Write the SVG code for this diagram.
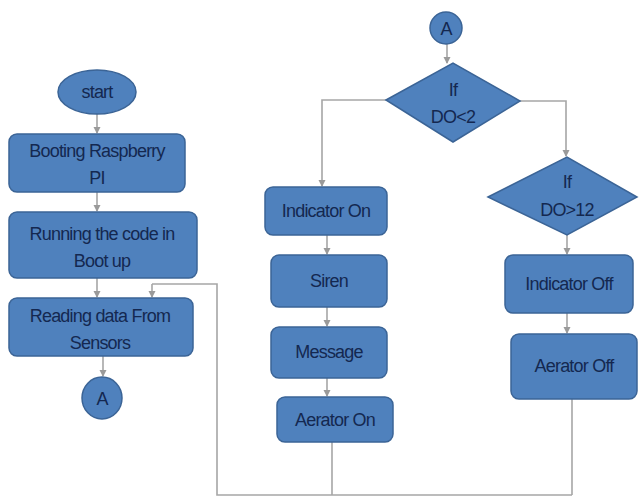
<svg xmlns="http://www.w3.org/2000/svg" width="639" height="497" viewBox="0 0 639 497">
<defs>
<marker id="ah" markerWidth="8" markerHeight="8" refX="6" refY="4" orient="auto" markerUnits="userSpaceOnUse">
<path d="M0,0.5 L7,4 L0,7.5 Z" fill="#9a9a9a"/>
</marker>
<style>
.n{fill:#4f81bd;stroke:#3b6496;stroke-width:1.5}
.t{font-family:"Liberation Sans",Arial,sans-serif;font-size:18px;fill:#142850;text-anchor:middle;letter-spacing:-0.8px}
.c{fill:none;stroke:#a6a6a6;stroke-width:1.6}
.a{marker-end:url(#ah)}
</style>
</defs>
<rect width="639" height="497" fill="#ffffff"/>
<g id="connectors">
<line class="c a" x1="97" y1="114" x2="97" y2="133"/>
<line class="c a" x1="97" y1="192" x2="97" y2="211"/>
<line class="c a" x1="97" y1="278" x2="97" y2="297"/>
<line class="c a" x1="103" y1="356" x2="103" y2="376"/>
<line class="c a" x1="447" y1="44" x2="447" y2="63"/>
<polyline class="c a" points="386,100 322,100 322,186"/>
<polyline class="c a" points="520,101 566,101 566,156"/>
<line class="c a" x1="327" y1="235" x2="327" y2="254"/>
<line class="c a" x1="327" y1="307" x2="327" y2="326"/>
<line class="c a" x1="327" y1="378" x2="327" y2="396"/>
<line class="c a" x1="567" y1="235" x2="567" y2="254"/>
<line class="c a" x1="567" y1="313" x2="567" y2="333"/>
<line class="c" x1="332" y1="442" x2="332" y2="495"/>
<line class="c" x1="572" y1="399" x2="572" y2="495"/>
<polyline class="c" points="572,495 217,495 217,284 152,284"/>
<line class="c a" x1="152" y1="284" x2="152" y2="297"/>
</g>
<g id="start"><ellipse class="n" cx="97" cy="92" rx="39" ry="22"/><text class="t" x="97" y="98">start</text></g>
<g id="booting"><rect class="n" x="9" y="134" width="176" height="58" rx="8"/><text class="t" x="97" y="157">Booting Raspberry</text><text class="t" x="97" y="184">PI</text></g>
<g id="running"><rect class="n" x="9" y="212" width="188" height="66" rx="8"/><text class="t" x="102" y="240">Running the code in</text><text class="t" x="102" y="267">Boot up</text></g>
<g id="reading"><rect class="n" x="9" y="298" width="184" height="58" rx="8"/><text class="t" x="100" y="322">Reading data From</text><text class="t" x="100" y="349">Sensors</text></g>
<g id="a-left"><ellipse class="n" cx="102" cy="398" rx="20" ry="21"/><text class="t" x="102" y="405">A</text></g>
<g id="a-top"><ellipse class="n" cx="446" cy="28" rx="16" ry="16"/><text class="t" x="446" y="35">A</text></g>
<g id="dec1"><polygon class="n" points="386,100 453,63 520,101 453,142"/><text class="t" x="453" y="96">If</text><text class="t" x="453" y="123">DO&lt;2</text></g>
<g id="dec2"><polygon class="n" points="488,197 567,157 637,197 567,235"/><text class="t" x="567" y="188">If</text><text class="t" x="567" y="216">DO&gt;12</text></g>
<g id="ind-on"><rect class="n" x="265" y="187" width="122" height="48" rx="8"/><text class="t" x="326" y="217">Indicator On</text></g>
<g id="siren"><rect class="n" x="271" y="255" width="116" height="52" rx="8"/><text class="t" x="329" y="287">Siren</text></g>
<g id="message"><rect class="n" x="271" y="327" width="116" height="51" rx="8"/><text class="t" x="329" y="358">Message</text></g>
<g id="aer-on"><rect class="n" x="277" y="397" width="116" height="45" rx="8"/><text class="t" x="335" y="426">Aerator On</text></g>
<g id="ind-off"><rect class="n" x="505" y="255" width="128" height="58" rx="8"/><text class="t" x="569" y="290">Indicator Off</text></g>
<g id="aer-off"><rect class="n" x="511" y="334" width="126" height="65" rx="8"/><text class="t" x="574" y="372">Aerator Off</text></g>
</svg>
